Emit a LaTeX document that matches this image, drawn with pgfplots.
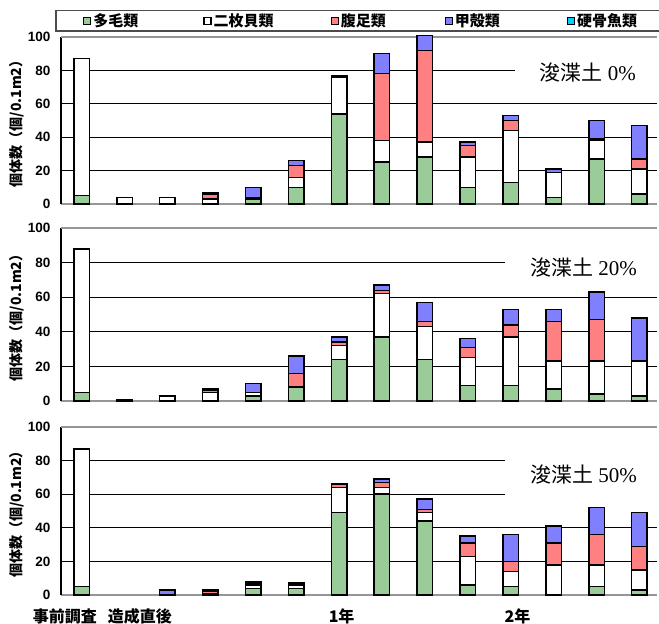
\documentclass[border=0pt]{standalone}
\usepackage{fontspec}
\setmainfont{Liberation Sans}
\newfontfamily\jp{Noto Sans CJK JP}
\newfontfamily\serifl{Liberation Serif}
\usepackage{pgfplots}
\usepackage{pgfplotstable}
\pgfplotsset{compat=1.18}
\definecolor{cgreen}{RGB}{153,204,153}
\definecolor{cred}{RGB}{255,128,128}
\definecolor{cpurple}{RGB}{128,128,255}
\definecolor{ccyan}{RGB}{0,204,255}
\definecolor{framegray}{RGB}{150,150,150}

\pgfplotstableread{
x g w r p c
0 5 82 0 0 0
1 0 4 0 0 0
2 0 4 0 0 0
3 0 3 3 1 0
4 3 1 0 6 0
5 10 6 7 3 0
6 54 22 0 1 0
7 25 13 40 12 0
8 28 9 55 9 0
9 10 18 7 2 0
10 13 31 6 3 0
11 4 15 0 2 0
12 27 11 1 11 0
13 6 15 6 20 0
}\panelA
\pgfplotstableread{
x g w r p c
0 5 83 0 0 0
1 0 1 0 0 0
2 0 3 0 0 0
3 0 5 1 1 0
4 3 2 0 5 0
5 8 0 8 10 0
6 24 8 2 3 0
7 37 25 2 3 0
8 24 19 3 11 0
9 9 16 6 5 0
10 9 28 7 9 0
11 7 16 23 7 0
12 4 19 24 16 0
13 3 20 0 25 0
}\panelB
\pgfplotstableread{
x g w r p c
0 5 82 0 0 0
1 0 0 0 0 0
2 0 0 0 3 0
3 0 1 1 1 0
4 4 2 1 1 0
5 4 2 1 0 0
6 49 15 2 0 0
7 60 4 3 2 0
8 44 5 2 6 0
9 6 17 8 4 0
10 5 9 6 16 0
11 0 18 13 10 0
12 5 13 18 16 0
13 3 12 14 20 0
}\panelC

\tikzset{plabel/.style={fill=white, inner sep=0pt, text=black, font=\fontsize{21bp}{24bp}\selectfont}}

\pgfplotsset{
 panel/.style={
  scale only axis, width=596bp, xmin=-0.48, xmax=13.41, ymin=0, ymax=100,
  ybar stacked, bar width=15.5bp, clip=false,
  axis lines*=left, separate axis lines,
  x axis line style={framegray, line width=2bp, -},
  y axis line style={black, line width=1.5bp, -},
  ytick={0,20,...,100}, ymajorgrids, grid style={black, line width=0.9bp},
  major tick length=0pt,
  xtick=\empty,
  /pgf/number format/assume math mode=true,
  yticklabel style={font=\fontsize{13.5bp}{16bp}\selectfont\bfseries, xshift=-7bp},
  ylabel={個体数（個/0.1m2）},
  every axis y label/.style={at={(axis description cs:-0.074,0.5)}, anchor=center, rotate=90,
     font=\fontsize{14bp}{16bp}\selectfont\jp\bfseries},
  legend image code/.code={\draw[##1, line width=1.2bp] (0bp,-3.5bp) rectangle (7bp,3.5bp);},
  every axis plot/.append style={draw=black, line width=1.5bp},
 },
}

\begin{document}
\begin{tikzpicture}
\useasboundingbox (0,0) rectangle (659bp,624bp);

% Panel 1
\begin{axis}[panel, at={(61bp,420bp)}, anchor=south west, height=167bp,
  legend columns=5,
  legend style={draw=none, fill=none, at={(axis description cs:0.0369,1.0964)}, anchor=west,
    inner sep=0pt, font=\fontsize{15bp}{17bp}\selectfont\jp\bfseries,
    /tikz/every even column/.append style={column sep=0pt}},
  legend cell align=left]
\addplot[fill=cgreen] table[x=x,y=g]{\panelA};
\addplot[fill=white] table[x=x,y=w]{\panelA};
\addplot[fill=cred] table[x=x,y=r]{\panelA};
\addplot[fill=cpurple] table[x=x,y=p]{\panelA};
\addplot[fill=ccyan] table[x=x,y=c]{\panelA};
\addlegendentry{\makebox[108bp][l]{多毛類}}
\addlegendentry{\makebox[115bp][l]{二枚貝類}}
\addlegendentry{\makebox[102bp][l]{腹足類}}
\addlegendentry{\makebox[110bp][l]{甲殻類}}
\addlegendentry{\makebox[70bp][l]{硬骨魚類}}
\draw[framegray, line width=1.5bp] (rel axis cs:0,1) -- (rel axis cs:1,1);
\draw[black!70, line width=1.2bp] (axis description cs:-0.0084,1.036) rectangle (axis description cs:1.01,1.1575);
\node[plabel, minimum width=145bp, minimum height=36bp] at (axis cs:11.8,79) {\jp 浚渫土\hspace{5bp}\serifl 0\%};
\end{axis}

% Panel 2
\begin{axis}[panel, at={(61bp,223bp)}, anchor=south west, height=173bp]
\addplot[fill=cgreen] table[x=x,y=g]{\panelB};
\addplot[fill=white] table[x=x,y=w]{\panelB};
\addplot[fill=cred] table[x=x,y=r]{\panelB};
\addplot[fill=cpurple] table[x=x,y=p]{\panelB};
\addplot[fill=ccyan] table[x=x,y=c]{\panelB};
\draw[framegray, line width=1.5bp] (rel axis cs:0,1) -- (rel axis cs:1,1);
\node[plabel, minimum width=158bp, minimum height=38bp] at (axis cs:11.7,77) {\jp 浚渫土\hspace{5bp}\serifl 20\%};
\end{axis}

% Panel 3
\begin{axis}[panel, at={(61bp,29bp)}, anchor=south west, height=168bp,
  xtick={-0.39,1.36,6.06,10.16},
  xticklabels={事前調査,造成直後,1年,2年},
  xticklabel style={font=\fontsize{16bp}{18bp}\selectfont\jp\bfseries, yshift=-10bp}]
\addplot[fill=cgreen] table[x=x,y=g]{\panelC};
\addplot[fill=white] table[x=x,y=w]{\panelC};
\addplot[fill=cred] table[x=x,y=r]{\panelC};
\addplot[fill=cpurple] table[x=x,y=p]{\panelC};
\addplot[fill=ccyan] table[x=x,y=c]{\panelC};
\draw[framegray, line width=1.5bp] (rel axis cs:0,1) -- (rel axis cs:1,1);
\node[plabel, minimum width=158bp, minimum height=58bp] at (axis cs:11.7,72) {\jp 浚渫土\hspace{5bp}\serifl 50\%};
\end{axis}
\end{tikzpicture}
\end{document}
